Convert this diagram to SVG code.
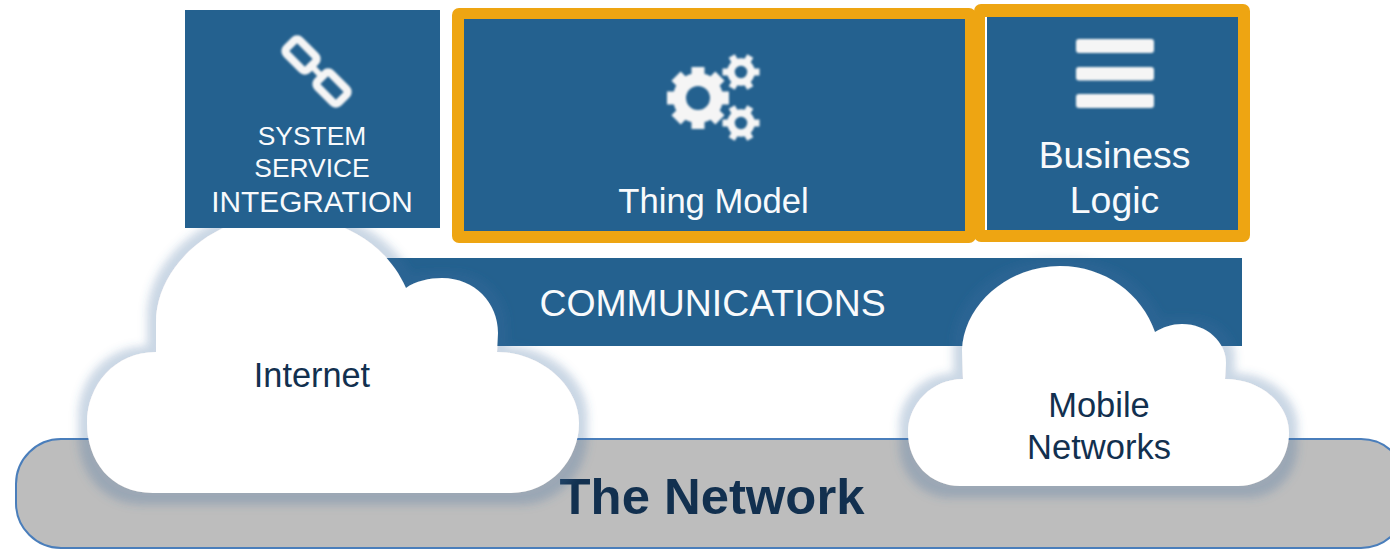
<svg xmlns="http://www.w3.org/2000/svg" width="1390" height="550" viewBox="0 0 1390 550">
<style>
text{font-family:"Liberation Sans",Arial,sans-serif;text-anchor:middle}
.w{fill:#f8fafc}
.d{fill:#12304f}
.blue{fill:#24618f}
.orange{fill:#eea512}
.cloud{fill:#fff;filter:url(#glow)}
.ic{filter:url(#soft)}
.bar{fill:#f5f5f5}
</style>
<defs>
<filter id="glow" x="-15%" y="-15%" width="130%" height="130%">
<feMorphology in="SourceAlpha" operator="dilate" radius="9" result="m"/>
<feGaussianBlur in="m" stdDeviation="4.500" result="b"/>
<feOffset in="b" dy="3" result="o"/>
<feFlood flood-color="#406d9f" flood-opacity="0.27"/>
<feComposite in2="o" operator="in" result="s"/>
<feGaussianBlur in="SourceGraphic" stdDeviation="0.6" result="g"/>
<feMerge><feMergeNode in="s"/><feMergeNode in="g"/></feMerge>
</filter>
<filter id="soft" x="-10%" y="-10%" width="120%" height="120%"><feGaussianBlur stdDeviation="0.8"/></filter>
<g id="gear-big" fill="none" stroke="#f5f5f5">
<circle r="18.500" stroke-width="13"/>
<g stroke-width="13">
<path d="M0-20V-31M0 20V31M-20 0H-31M20 0H31"/>
<path d="M0-20V-31M0 20V31M-20 0H-31M20 0H31" transform="rotate(45)"/>
</g>
</g>
<g id="gear-small" fill="none" stroke="#f5f5f5">
<circle r="10" stroke-width="7.500"/>
<g stroke-width="7">
<path d="M-11 0H-18.500M11 0H18.500"/>
<path d="M-11 0H-18.500M11 0H18.500" transform="rotate(60)"/>
<path d="M-11 0H-18.500M11 0H18.500" transform="rotate(120)"/>
</g>
</g>
</defs>

<rect width="1390" height="550" fill="#fff"/>

<g id="network">
<rect x="16" y="439" width="1390" height="109" rx="45" fill="#bdbdbd" stroke="#4a7ebb" stroke-width="2"/>
<text class="d" x="712" y="514" font-size="50.8" font-weight="bold">The Network</text>
</g>

<g id="communications">
<rect class="blue" x="380" y="258" width="862" height="88"/>
<text class="w" x="712.500" y="316" font-size="37.400">COMMUNICATIONS</text>
</g>

<g id="internet">
<path class="cloud" d="M153 493C110 493 87 460 87 423C87 385 115 352 156 352L156 323C156 265 215 215 280 215C335 215 385 240 406 288C415 281 430 278 442 278C475 278 498 303 498 333L497 352C540 352 579 385 579 423C579 460 550 493 511 493Z"/>
<text class="d" x="312" y="387" font-size="34.300">Internet</text>
</g>

<g id="mobile-networks">
<path class="cloud" d="M960 486C930 486 908 462 908 433C908 404 932 379 963 379L962 350C964 304 1008 266 1060 266C1105 266 1142 294 1155 332C1163 327 1172 324 1182 324C1207 324 1226 342 1226 363L1225 379C1261 379 1289 404 1289 433C1289 462 1268 486 1238 486Z"/>
<text class="d" x="1099" y="417" font-size="34.500">Mobile</text>
<text class="d" x="1099" y="459" font-size="34.500">Networks</text>
</g>

<g id="system-service-integration">
<rect class="blue" x="185" y="10" width="255" height="218"/>
<g class="ic" fill="none" stroke="#f5f5f5" stroke-width="8">
<rect x="-15" y="-9.500" width="30" height="19" rx="4" transform="translate(301 55) rotate(45)"/>
<rect x="-15" y="-9.500" width="30" height="19" rx="4" transform="translate(332 88) rotate(45)"/>
<path d="M309 63L324 79" stroke-width="6"/>
</g>
<text class="w" x="312" y="145" font-size="26.400">SYSTEM</text>
<text class="w" x="312" y="177" font-size="26.400">SERVICE</text>
<text class="w" x="312" y="212" font-size="29.800">INTEGRATION</text>
</g>

<g id="thing-model">
<rect class="orange" x="452" y="8" width="524" height="235" rx="7"/>
<rect class="blue" x="464" y="19" width="501" height="212"/>
<g class="ic">
<use href="#gear-big" transform="translate(698 98)"/>
<use href="#gear-small" transform="translate(741 72)"/>
<use href="#gear-small" transform="translate(741 123)"/>
</g>
<text class="w" x="713.500" y="213" font-size="34.600">Thing Model</text>
</g>

<g id="business-logic">
<rect class="orange" x="974" y="4" width="276" height="238" rx="7"/>
<rect x="985" y="17" width="2" height="213" fill="#fff"/>
<rect class="blue" x="987" y="17" width="251" height="213"/>
<g class="ic">
<rect class="bar" x="1076" y="39" width="78" height="14" rx="3"/>
<rect class="bar" x="1076" y="67" width="78" height="13.500" rx="3"/>
<rect class="bar" x="1076" y="94" width="78" height="14" rx="3"/>
</g>
<text class="w" x="1114.500" y="168" font-size="37.400">Business</text>
<text class="w" x="1114.500" y="213" font-size="37.400">Logic</text>
</g>
</svg>
